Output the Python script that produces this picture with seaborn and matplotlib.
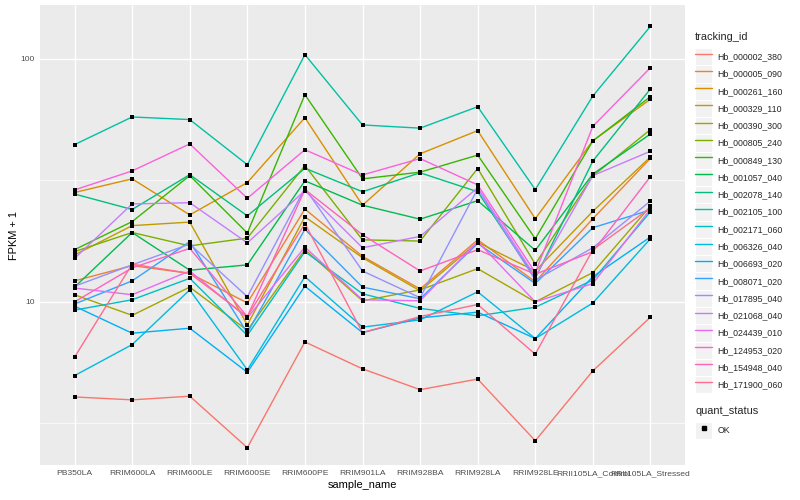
import matplotlib
matplotlib.use("Agg")

import matplotlib.pyplot as plt
import numpy as np
import pandas as pd
import seaborn as sns
from matplotlib.legend_handler import HandlerLine2D
from matplotlib.lines import Line2D
from matplotlib.patches import Rectangle
from matplotlib.ticker import FixedLocator, NullFormatter

# ── data (FPKM + 1) ──────────────────────────────────────────────────────────
samples = [
    "PB350LA", "RRIM600LA", "RRIM600LE", "RRIM600SE", "RRIM600PE", "RRIM901LA",
    "RRIM928BA", "RRIM928LA", "RRIM928LE", "RRII105LA_Control", "RRII105LA_Stressed",
]

hb_000002_380 = [4.06, 3.95, 4.09, 2.51, 6.84, 5.30, 4.35, 4.81, 2.68, 5.20, 8.65]
hb_000005_090 = [12.2, 14.1, 13.1, 9.9, 24.1, 15.4, 11.3, 18.0, 12.1, 22.0, 39.0]
hb_000261_160 = [28.2, 32.1, 22.8, 31.0, 57.3, 25.0, 40.7, 50.7, 22.0, 46.1, 68.3]
hb_000329_110 = [15.6, 20.6, 21.3, 8.04, 22.4, 15.2, 11.1, 17.6, 13.4, 23.6, 39.5]
hb_000390_300 = [10.7, 8.80, 11.5, 7.63, 16.4, 10.1, 11.2, 13.7, 10.0, 13.2, 24.8]
hb_000805_240 = [16.1, 19.3, 17.0, 18.3, 36.4, 18.0, 17.8, 35.4, 14.3, 33.0, 51.2]
hb_000849_130 = [16.4, 21.4, 33.1, 19.2, 71.3, 32.1, 34.2, 40.2, 18.2, 46.0, 70.0]
hb_001057_040 = [11.5, 19.3, 13.5, 14.2, 31.5, 25.0, 21.9, 26.1, 16.3, 33.6, 49.1]
hb_002078_140 = [27.8, 24.0, 33.4, 22.6, 35.5, 28.4, 34.0, 28.4, 12.5, 38.0, 75.3]
hb_002105_100 = [44.4, 57.7, 56.3, 36.7, 104.2, 53.5, 51.9, 63.6, 29.0, 70.4, 136.3]
hb_002171_060 = [9.25, 10.2, 12.5, 7.28, 16.1, 10.8, 9.4, 8.76, 9.5, 12.3, 23.5]
hb_006326_040 = [4.97, 6.67, 11.2, 5.25, 12.7, 7.87, 8.43, 11.0, 7.06, 9.9, 18.2]
hb_006693_020 = [9.6, 7.43, 7.79, 5.13, 11.6, 7.47, 8.59, 9.07, 7.06, 12.7, 18.5]
hb_008071_020 = [9.8, 12.2, 17.7, 7.45, 19.9, 11.5, 10.3, 17.4, 11.9, 20.2, 23.9]
hb_017895_040 = [11.6, 14.2, 17.3, 10.5, 29.4, 13.4, 10.4, 29.2, 12.3, 16.7, 26.0]
hb_021068_040 = [15.1, 25.3, 25.6, 17.5, 28.7, 16.7, 18.6, 29.5, 12.7, 33.1, 41.7]
hb_024439_010 = [11.4, 10.7, 13.4, 8.59, 16.8, 10.2, 10.1, 17.7, 10.0, 11.9, 24.1]
hb_124953_020 = [28.9, 34.6, 44.7, 26.7, 42.3, 33.3, 38.9, 30.3, 13.2, 52.8, 92.1]
hb_154948_040 = [10.0, 13.8, 16.6, 8.70, 29.0, 18.9, 13.4, 16.4, 13.0, 16.1, 32.8]
hb_171900_060 = [5.92, 14.3, 13.1, 8.70, 21.0, 7.47, 8.70, 9.75, 6.09, 16.4, 24.4]

series = {
    "Hb_000002_380": hb_000002_380, "Hb_000005_090": hb_000005_090,
    "Hb_000261_160": hb_000261_160, "Hb_000329_110": hb_000329_110,
    "Hb_000390_300": hb_000390_300, "Hb_000805_240": hb_000805_240,
    "Hb_000849_130": hb_000849_130, "Hb_001057_040": hb_001057_040,
    "Hb_002078_140": hb_002078_140, "Hb_002105_100": hb_002105_100,
    "Hb_002171_060": hb_002171_060, "Hb_006326_040": hb_006326_040,
    "Hb_006693_020": hb_006693_020, "Hb_008071_020": hb_008071_020,
    "Hb_017895_040": hb_017895_040, "Hb_021068_040": hb_021068_040,
    "Hb_024439_010": hb_024439_010, "Hb_124953_020": hb_124953_020,
    "Hb_154948_040": hb_154948_040, "Hb_171900_060": hb_171900_060,
}
tracking_ids = list(series)

# ggplot2 default hue palette for 20 levels
hue_colors = [
    "#F8766D", "#EA8331", "#D89000", "#C09B00", "#A3A500", "#7CAE00", "#39B600",
    "#00BB4E", "#00BF7D", "#00C1A3", "#00BFC4", "#00BAE0", "#00B0F6", "#35A2FF",
    "#9590FF", "#C77CFF", "#E76BF3", "#FA62DB", "#FF62BC", "#FF6C91",
]
palette = dict(zip(tracking_ids, hue_colors))

rows = []
for tid, vals in series.items():
    for s, v in zip(samples, vals):
        rows.append({"tracking_id": tid, "sample_name": s, "fpkm": v, "quant_status": "OK"})
df = pd.DataFrame(rows)

# ── style ────────────────────────────────────────────────────────────────────
sns.set_theme(style="darkgrid", rc={
    "axes.facecolor": "#EBEBEB",
    "grid.color": "white",
    "axes.edgecolor": "none",
})
plt.rcParams["font.family"] = ["Liberation Sans", "DejaVu Sans"]

TICK_FS = 6.1     # ~8.5 px
LEG_FS = 6.34     # 8.8 px
TITLE_FS = 7.92   # 11 px

fig = plt.figure(figsize=(8, 5), dpi=100)
ax = fig.add_axes([40 / 800, 35 / 500, 645 / 800, 460 / 500])

sns.lineplot(data=df, x="sample_name", y="fpkm", hue="tracking_id", palette=palette,
             sort=False, estimator=None, linewidth=1.0, legend=False, ax=ax)
sns.scatterplot(data=df, x="sample_name", y="fpkm", color="black", marker="s",
                s=7, linewidth=0, legend=False, ax=ax, zorder=3)

ax.set_yscale("log")
ax.set_ylim(2.13, 166.8)
ax.set_xlim(-0.6, len(samples) - 0.4)
ax.yaxis.set_major_locator(FixedLocator([10, 100]))
ax.yaxis.set_major_formatter(plt.FixedFormatter(["10", "100"]))
ax.yaxis.set_minor_locator(FixedLocator([10 ** 0.5, 10 ** 1.5]))
ax.yaxis.set_minor_formatter(NullFormatter())

ax.grid(which="major", color="white", linewidth=1.0)
ax.grid(which="minor", color="white", linewidth=0.5)
for sp in ax.spines.values():
    sp.set_visible(False)

ax.tick_params(axis="both", which="major", length=2.0, width=0.8, color="#333333",
               labelsize=TICK_FS, labelcolor="#4D4D4D", pad=1.6)
ax.tick_params(axis="both", which="minor", length=0)

ax.set_xlabel("sample_name", fontsize=TITLE_FS, color="black", labelpad=2.5)
ax.set_ylabel("FPKM + 1", fontsize=TITLE_FS, color="black", labelpad=1)


# ── legends (grey key boxes like ggplot) ─────────────────────────────────────
class KeyHandler(HandlerLine2D):
    def create_artists(self, legend, orig_handle, xdescent, ydescent, width, height,
                       fontsize, trans):
        bg = Rectangle((-xdescent, -ydescent), width, height, facecolor="#F2F2F2",
                       edgecolor="white", linewidth=0.8, transform=trans)
        arts = super().create_artists(legend, orig_handle, xdescent, ydescent,
                                      width, height, fontsize, trans)
        return [bg] + list(arts)


# handleheight chosen so that the key box is 17.3 px tall (matplotlib
# subtracts a descent from handleheight * fontsize)
legend_kw = dict(loc="upper left", frameon=False, fontsize=LEG_FS,
                 title_fontsize=TITLE_FS, handlelength=1.96, handleheight=2.64,
                 labelspacing=0, handletextpad=0.6, borderpad=0, borderaxespad=0,
                 alignment="left", handler_map={Line2D: KeyHandler()})

line_handles = [Line2D([], [], color=palette[t], linewidth=1.0) for t in tracking_ids]
leg1 = fig.legend(line_handles, tracking_ids, title="tracking_id",
                  bbox_to_anchor=(695 / 800, 1 - 32 / 500), **legend_kw)
leg1._legend_box.sep = 4.3   # gap between title and keys (points)

ok_handle = [Line2D([], [], color="black", marker="s", markersize=2.6, linestyle="none")]
leg2 = fig.legend(ok_handle, ["OK"], title="quant_status",
                  bbox_to_anchor=(695 / 800, 1 - 406 / 500), **legend_kw)
leg2._legend_box.sep = 4.3

fig.savefig("out.png", dpi=100)
